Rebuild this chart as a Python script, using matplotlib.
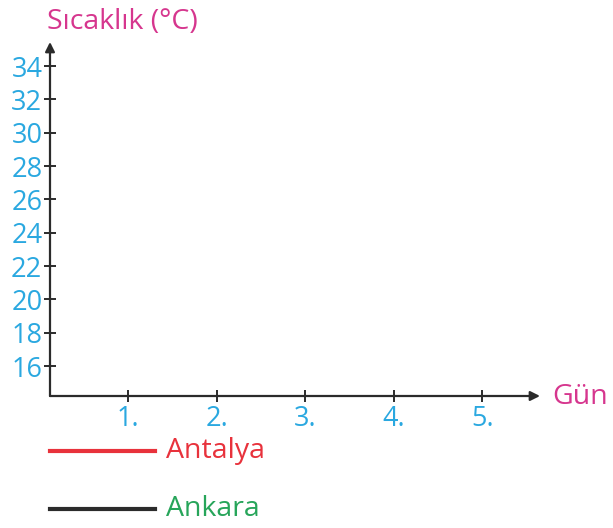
import matplotlib
matplotlib.use("Agg")
import matplotlib.pyplot as plt
from matplotlib.lines import Line2D

# chart data
days = ["1.", "2.", "3.", "4.", "5."]
day_pos = [1, 2, 3, 4, 5]
temp_ticks = [16, 18, 20, 22, 24, 26, 28, 30, 32, 34]
cities = ["Antalya", "Ankara"]
line_colors = ["#e8323c", "#2b2b2b"]
text_colors = ["#e8323c", "#27a55a"]

blue = "#2aa8e0"
magenta = "#d6368e"

plt.rcParams["font.family"] = ["Open Sans", "DejaVu Sans"]

fig = plt.figure(figsize=(6.13, 5.28), dpi=100)
ax = fig.add_axes([50 / 613, 132 / 528, 490 / 613, 354 / 528])

ax.set_xlim(0.12, 5.65)
ax.set_ylim(14.2, 35.45)

for s in ax.spines.values():
    s.set_visible(False)

# axis lines with arrows
for end in [(1, 0), (0, 1)]:
    ax.annotate("", xy=end, xytext=(0, 0), xycoords="axes fraction",
                arrowprops=dict(arrowstyle="-|>", color="#2b2b2b", lw=1.6,
                                mutation_scale=14, shrinkA=0, shrinkB=0))

ax.set_xticks(day_pos)
ax.set_xticklabels(days)
ax.set_yticks(temp_ticks)
ax.tick_params(axis="both", direction="inout", length=9, width=1.4,
               color="#2b2b2b", labelcolor=blue, labelsize=19.5)
ax.tick_params(axis="x", pad=2)
ax.tick_params(axis="y", pad=1)

fig.text(47 / 613, 1 - 22 / 528, "Sıcaklık (°C)", color=magenta,
         fontsize=20.5, va="center", ha="left")
fig.text(552 / 613, 1 - 397 / 528, "Gün", color=magenta,
         fontsize=20.5, va="center", ha="left")

# legend: short line + coloured name
for i, (name, lc, tc) in enumerate(zip(cities, line_colors, text_colors)):
    y = 1 - (451 + 58 * i) / 528
    fig.add_artist(Line2D([50 / 613, 155 / 613], [y, y], color=lc, lw=3))
    fig.text(166 / 613, y, name, color=tc, fontsize=20.5,
             va="center", ha="left")

fig.savefig("out.png", dpi=100)
